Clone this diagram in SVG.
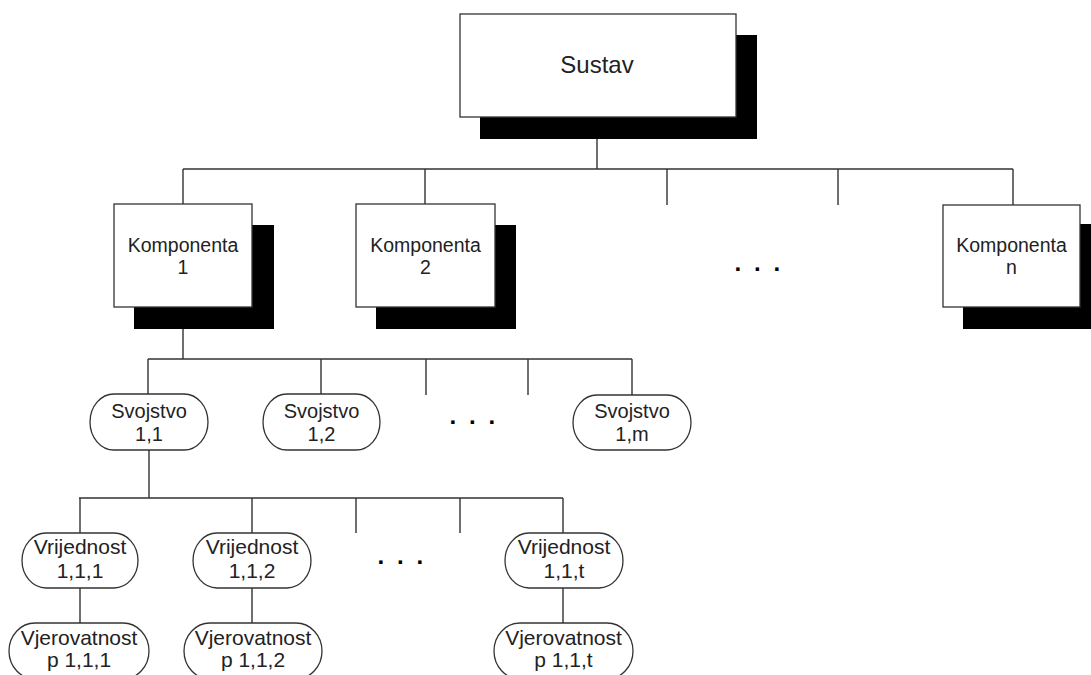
<svg xmlns="http://www.w3.org/2000/svg" width="1091" height="675" viewBox="0 0 1091 675">
<style>
.box{fill:#fff;stroke:#333;stroke-width:1.3}
.sh{fill:#000}
.pill{fill:#fff;stroke:#333;stroke-width:1.3}
.ln{stroke:#333;stroke-width:1.4;fill:none}
text{font-family:"Liberation Sans",Arial,sans-serif;fill:#222;text-anchor:middle}
.t19{font-size:19.5px}
.t195{font-size:20px}
.t20{font-size:21px}
.dots{font-size:24px;font-weight:bold;fill:#000;text-anchor:start;letter-spacing:12.8px}
</style>
<rect width="1091" height="675" fill="#fff"/>
<g id="connectors">
<path class="ln" d="M597 139V169M183 169H1013M183 169V204M425 169V204M1013 169V205M667 169V205M838 169V205"/>
<path class="ln" d="M183 329V359M148 359H632M148 359V394M321 359V394M632 359V395M426 359V395M528 359V395"/>
<path class="ln" d="M149 450V498M79 498H563M80 498V533M252 498V533M563 498V533M356 498V533M460 498V533"/>
<path class="ln" d="M80 588V623M252 588V623M563 588V623"/>
</g>
<g id="sustav">
<rect class="sh" x="480" y="35" width="277" height="104"/>
<rect class="box" x="460" y="14" width="276" height="103"/>
<text x="597" y="73" style="font-size:24px">Sustav</text>
</g>
<g id="komponenta1">
<rect class="sh" x="134" y="225" width="140" height="104"/>
<rect class="box" x="114" y="204" width="138" height="103"/>
<text class="t19" x="183" y="252">Komponenta</text>
<text class="t19" x="183" y="274">1</text>
</g>
<g id="komponenta2">
<rect class="sh" x="376" y="225" width="140" height="104"/>
<rect class="box" x="356" y="204" width="139" height="103"/>
<text class="t19" x="425.5" y="252">Komponenta</text>
<text class="t19" x="425.5" y="274">2</text>
</g>
<g id="komponentan">
<rect class="sh" x="963" y="224" width="140" height="105"/>
<rect class="box" x="943" y="205" width="137" height="102"/>
<text class="t19" x="1011.5" y="252">Komponenta</text>
<text class="t19" x="1011.5" y="274">n</text>
</g>
<g id="dots1"><text class="dots" x="734.6" y="271">...</text></g>
<g id="svojstvo11">
<rect class="pill" x="90" y="394" width="118" height="56" rx="24" ry="28"/>
<text class="t195" x="149" y="418">Svojstvo</text>
<text class="t195" x="149" y="441">1,1</text>
</g>
<g id="svojstvo12">
<rect class="pill" x="263" y="394" width="117" height="56" rx="24" ry="28"/>
<text class="t195" x="321.5" y="418">Svojstvo</text>
<text class="t195" x="321.5" y="441">1,2</text>
</g>
<g id="svojstvo1m">
<rect class="pill" x="573" y="395" width="118" height="55" rx="24" ry="27.5"/>
<text class="t195" x="632" y="418">Svojstvo</text>
<text class="t195" x="632" y="441">1,m</text>
</g>
<g id="dots2"><text class="dots" x="449.6" y="424">...</text></g>
<g id="vrijednost111">
<rect class="pill" x="22" y="533" width="116" height="55" rx="24" ry="27.5"/>
<text class="t20" x="80" y="554">Vrijednost</text>
<text class="t20" x="80" y="578">1,1,1</text>
</g>
<g id="vrijednost112">
<rect class="pill" x="193" y="533" width="118" height="55" rx="24" ry="27.5"/>
<text class="t20" x="252" y="554">Vrijednost</text>
<text class="t20" x="252" y="578">1,1,2</text>
</g>
<g id="vrijednost11t">
<rect class="pill" x="505" y="533" width="118" height="55" rx="24" ry="27.5"/>
<text class="t20" x="564" y="554">Vrijednost</text>
<text class="t20" x="564" y="578">1,1,t</text>
</g>
<g id="dots3"><text class="dots" x="377.6" y="564">...</text></g>
<g id="vjerovatnost111">
<rect class="pill" x="9" y="623" width="140" height="56" rx="26" ry="28"/>
<text class="t20" x="79" y="645">Vjerovatnost</text>
<text class="t20" x="79" y="667">p 1,1,1</text>
</g>
<g id="vjerovatnost112">
<rect class="pill" x="184" y="623" width="138" height="56" rx="26" ry="28"/>
<text class="t20" x="253" y="645">Vjerovatnost</text>
<text class="t20" x="253" y="667">p 1,1,2</text>
</g>
<g id="vjerovatnost11t">
<rect class="pill" x="494" y="623" width="139" height="56" rx="26" ry="28"/>
<text class="t20" x="563.5" y="645">Vjerovatnost</text>
<text class="t20" x="563.5" y="667">p 1,1,t</text>
</g>
</svg>
